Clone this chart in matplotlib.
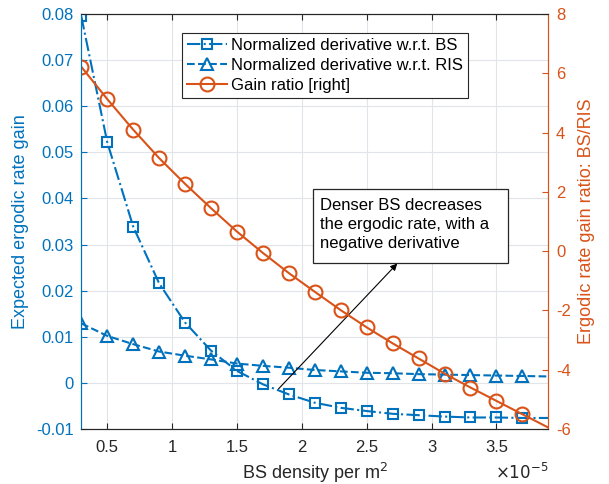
import matplotlib.pyplot as plt
from matplotlib.patches import Rectangle

plt.rcParams['font.family'] = ['Liberation Sans', 'DejaVu Sans']
plt.rcParams['axes.unicode_minus'] = False

# BS density, in units of 1e-5 per m^2
density = [0.3, 0.5, 0.7, 0.9, 1.1, 1.3, 1.5, 1.7, 1.9, 2.1,
           2.3, 2.5, 2.7, 2.9, 3.1, 3.3, 3.5, 3.7, 3.9]
deriv_bs = [0.0795, 0.0522, 0.0339, 0.0216, 0.0131, 0.0070, 0.0026, -0.0003, -0.0025, -0.0043,
            -0.0054, -0.0061, -0.0067, -0.0070, -0.0073, -0.0075, -0.0075, -0.0076, -0.0076]
deriv_ris = [0.0129, 0.0102, 0.0084, 0.0068, 0.0059, 0.0051, 0.0042, 0.0037, 0.0033, 0.0028,
             0.0025, 0.0022, 0.0021, 0.0019, 0.0018, 0.0017, 0.0016, 0.0015, 0.0014]
gain_ratio = [6.22, 5.13, 4.10, 3.14, 2.27, 1.45, 0.66, -0.06, -0.74, -1.37,
              -1.99, -2.57, -3.11, -3.62, -4.13, -4.60, -5.05, -5.50, -5.95]

left_ticks = [-0.01, 0, 0.01, 0.02, 0.03, 0.04, 0.05, 0.06, 0.07, 0.08]
right_ticks = [-6, -4, -2, 0, 2, 4, 6, 8]
x_ticks = [0.5, 1, 1.5, 2, 2.5, 3, 3.5]

blue = '#0072BD'
orange = '#D95319'
dark = '#262626'

fig = plt.figure(figsize=(6.09, 4.84), dpi=100)
ax = fig.add_axes([0.1335, 0.1136, 0.9003 - 0.1335, 0.971 - 0.1136])
ax2 = ax.twinx()

marks = slice(0, 18)
l1, = ax.plot(density, deriv_bs, '-.', color=blue, lw=1.5, marker='s', ms=7.5,
              mfc='none', mew=1.5, markevery=marks, label='Normalized derivative w.r.t. BS')
l2, = ax.plot(density, deriv_ris, '--', color=blue, lw=1.5, marker='^', ms=9,
              mfc='none', mew=1.5, markevery=marks, label='Normalized derivative w.r.t. RIS')
l3, = ax2.plot(density, gain_ratio, '-', color=orange, lw=1.5, marker='o', ms=10,
               mfc='none', mew=1.5, markevery=marks, label='Gain ratio [right]')

ax.set_xlim(0.3, 3.9)
ax.set_ylim(-0.01, 0.08)
ax2.set_ylim(-6, 8)
ax.set_xticks(x_ticks)
ax.set_xticklabels(['%g' % t for t in x_ticks])
ax.set_yticks(left_ticks)
ax.set_yticklabels(['%g' % t for t in left_ticks])
ax2.set_yticks(right_ticks)

ax.grid(True, color='#e1e4e8', lw=0.8)
ax.set_axisbelow(True)

ax.tick_params(axis='x', direction='in', top=True, colors=dark, labelsize=12, length=4, pad=8)
ax.tick_params(axis='y', direction='in', colors=blue, labelsize=12, length=4, pad=5.5)
ax2.tick_params(axis='y', direction='in', colors=orange, labelsize=12, length=4, pad=5.5)
for a in (ax, ax2):
    a.spines['top'].set_color(dark)
    a.spines['bottom'].set_color(dark)
    a.spines['left'].set_color(blue)
    a.spines['right'].set_color(orange)

ax.set_xlabel('BS density per m$^{2}$', fontsize=13, color=dark, labelpad=4)
ax.set_ylabel('Expected ergodic rate gain', fontsize=13, color=blue, labelpad=5)
ax2.set_ylabel('Ergodic rate gain ratio: BS/RIS', fontsize=13, color=orange, labelpad=5)
fig.text(0.9003, 1 - 479 / 484, r'$\times10^{-5}$', ha='right', va='baseline',
         fontsize=12, color=dark)

leg = ax2.legend([l1, l2, l3], [l.get_label() for l in (l1, l2, l3)],
                 loc='upper left', bbox_to_anchor=(182 / 609, 1 - 33 / 484),
                 bbox_transform=fig.transFigure, fontsize=12, handlelength=2.4,
                 handletextpad=0.25, borderpad=0.3, labelspacing=0.3,
                 fancybox=False, framealpha=1, edgecolor=dark, borderaxespad=0)
leg.get_frame().set_linewidth(0.8)

# annotation box and arrow
fig.patches.append(Rectangle((313 / 609, 1 - 263 / 484), 195 / 609, 74 / 484,
                             transform=fig.transFigure, facecolor='white',
                             edgecolor=dark, lw=0.9, zorder=5))
fig.text(320 / 609, 1 - 198 / 484,
         'Denser BS decreases\nthe ergodic rate, with a\nnegative derivative',
         ha='left', va='top', fontsize=12, linespacing=1.33, color='black', zorder=6)
ax.annotate('', xy=(2.736, 0.0259), xytext=(1.82, -0.0013),
            arrowprops=dict(arrowstyle='-|>', color='black', lw=0.8,
                            mutation_scale=10, shrinkA=0, shrinkB=0))

fig.savefig('out.png', dpi=100)
